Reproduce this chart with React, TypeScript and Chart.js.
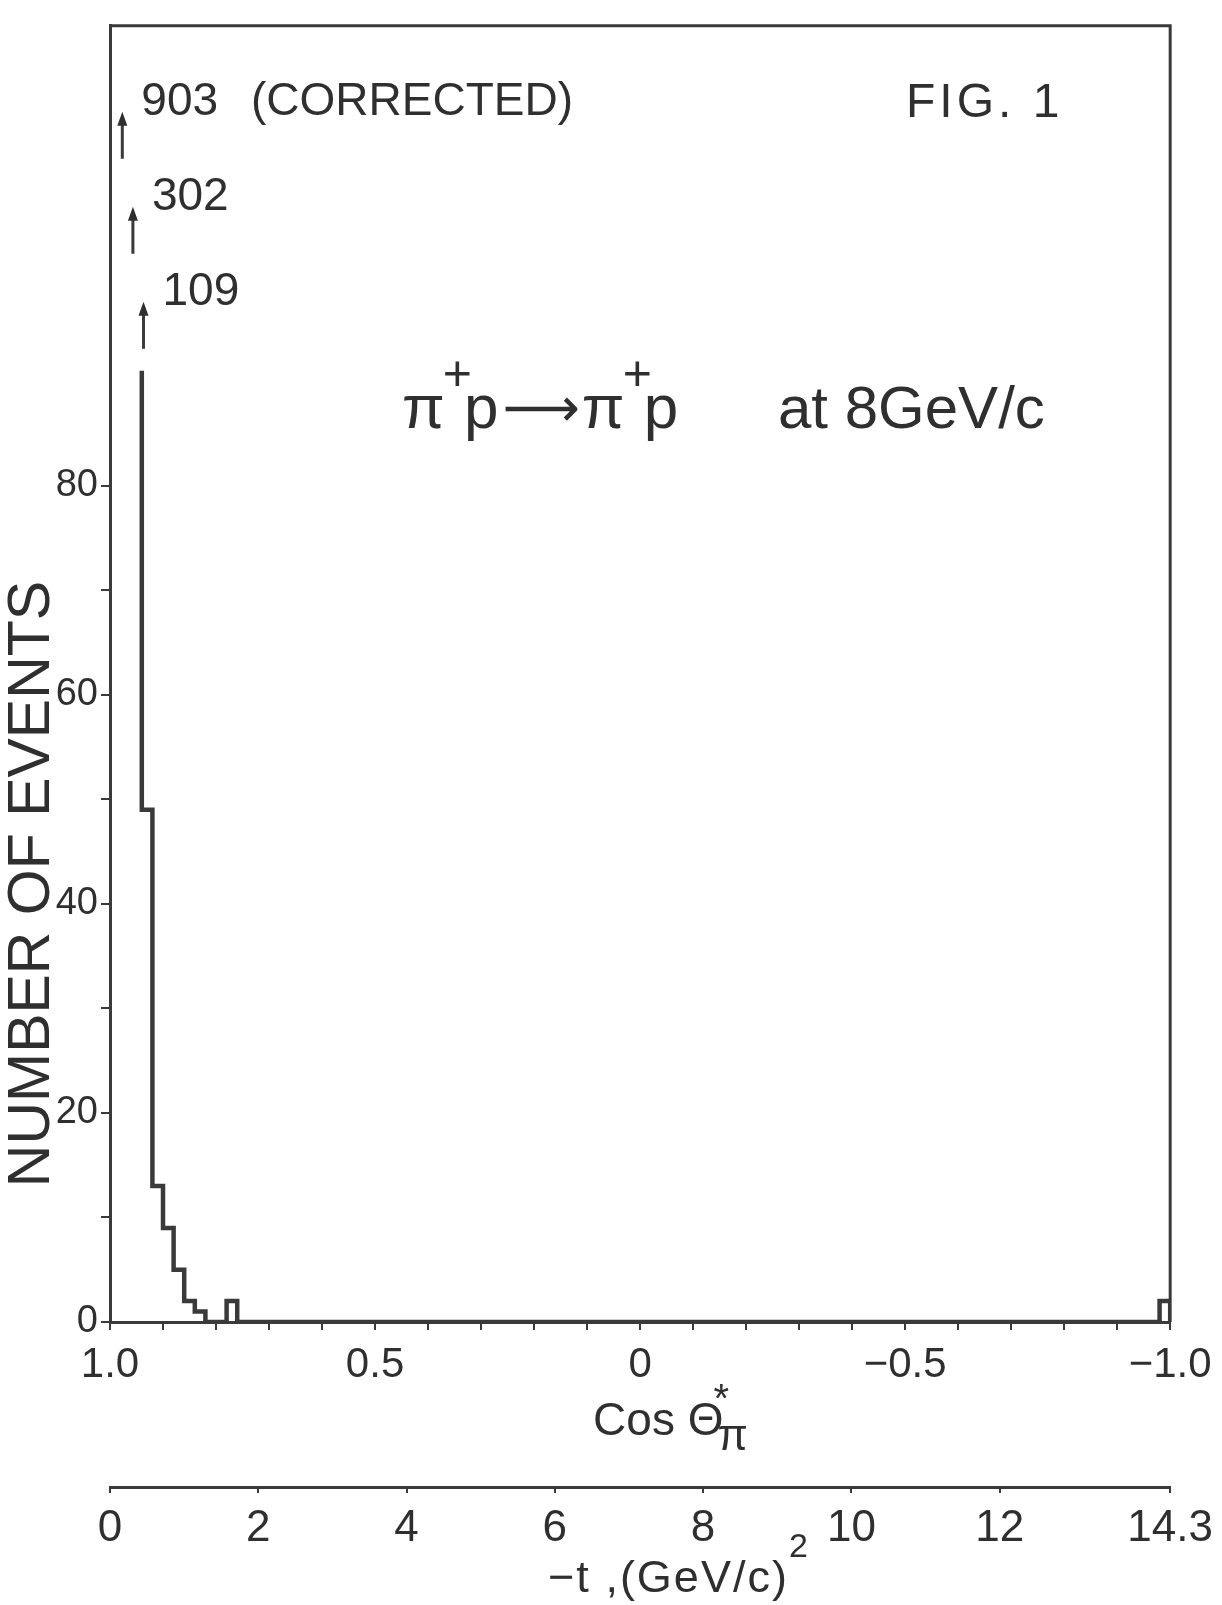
import React, { useEffect, useRef } from 'react';
import { Chart, registerables } from 'chart.js';

Chart.register(...registerables);

// ---------------- data ----------------
// histogram of cos(theta*) in bins of 0.02; upper edge of each listed bin
const binUpperEdge = [1.0, 0.98, 0.96, 0.94, 0.92, 0.9, 0.88, 0.86, 0.84, 0.82, 0.8, 0.78, 0.76, -0.96, -0.98];
const binCount = [903, 302, 109, 49, 13, 9, 5, 2, 1, 0, 0, 2, 0, 0, 2];
const BIN_WIDTH = 0.02;
// bins above this value are drawn as arrows with their count written beside
const DISPLAY_CAP = 91;
const offScaleNote = ['(CORRECTED)', '', ''];

const cosTickValues = [1.0, 0.9, 0.8, 0.7, 0.6, 0.5, 0.4, 0.3, 0.2, 0.1, 0, -0.1, -0.2, -0.3, -0.4, -0.5, -0.6, -0.7, -0.8, -0.9, -1.0];
const cosTickLabels = ['1.0', '', '', '', '', '0.5', '', '', '', '', '0', '', '', '', '', '\u22120.5', '', '', '', '', '\u22121.0'];
const eventTickValues = [0, 10, 20, 30, 40, 50, 60, 70, 80];
const eventTickLabels = ['0', '', '20', '', '40', '', '60', '', '80'];
const Y_MAX = 124;
const tTickValues = [0, 2, 4, 6, 8, 10, 12, 14.3];
const tTickLabels = ['0', '2', '4', '6', '8', '10', '12', '14.3'];
const T_MAX = 14.3;

const yTitle = 'NUMBER OF EVENTS';
const figLabel = 'FIG. 1';
const reactionLeft = ['\u03C0', '+', 'p'];
const reactionArrow = '\u27F6';
const reactionRight = ['\u03C0', '+', 'p'];
const reactionMomentum = 'at 8GeV/c';

// ---------------- style ----------------
const FONT = "'Liberation Sans', Arial, sans-serif";
const INK = '#2f2f2f';
const INK_LINE = '#3a3a3a';

function buildOutline() {
  const pts: { x: number; y: number }[] = [];
  let prevOff = false;
  for (let i = 0; i < binCount.length; i++) {
    const hi = binUpperEdge[i];
    const c = binCount[i];
    if (c > DISPLAY_CAP) {
      prevOff = true;
      continue;
    }
    if (prevOff) {
      pts.push({ x: hi, y: DISPLAY_CAP });
      prevOff = false;
    }
    pts.push({ x: hi, y: c });
    pts.push({ x: hi - BIN_WIDTH, y: c });
  }
  const last = binUpperEdge.length - 1;
  pts.push({ x: binUpperEdge[last] - BIN_WIDTH, y: 0 });
  return pts;
}

function font(size: number) {
  return `${size}px ${FONT}`;
}

const annotPlugin = {
  id: 'annot',
  afterDraw(chart: any) {
    const { ctx, chartArea: a, scales } = chart;
    const xs = scales.x;
    const ys = scales.y;
    ctx.save();

    // frame top and right
    ctx.strokeStyle = INK_LINE;
    ctx.lineWidth = 3;
    ctx.beginPath();
    ctx.moveTo(a.left, a.top);
    ctx.lineTo(a.right, a.top);
    ctx.lineTo(a.right, a.bottom);
    ctx.stroke();

    ctx.fillStyle = INK;
    ctx.textBaseline = 'alphabetic';
    ctx.textAlign = 'left';

    // off-scale bins: arrows and counts
    const offs: number[] = [];
    binCount.forEach((c, i) => {
      if (c > DISPLAY_CAP) offs.push(i);
    });
    const capPx = ys.getPixelForValue(DISPLAY_CAP);
    offs.forEach((i, j) => {
      const k = offs.length - 1 - j;
      const x = xs.getPixelForValue(binUpperEdge[i] - BIN_WIDTH / 2) + 7;
      const bottom = capPx - 22 - 95 * k;
      const top = bottom - 47;
      ctx.strokeStyle = INK_LINE;
      ctx.lineWidth = 3;
      ctx.beginPath();
      ctx.moveTo(x, bottom);
      ctx.lineTo(x, top + 10);
      ctx.stroke();
      ctx.beginPath();
      ctx.moveTo(x, top);
      ctx.lineTo(x - 5, top + 14);
      ctx.lineTo(x + 5, top + 14);
      ctx.closePath();
      ctx.fill();
      ctx.font = font(46);
      ctx.textBaseline = 'middle';
      const label = String(binCount[i]);
      const ly = top - 9;
      ctx.fillText(label, x + 19, ly);
      const note = offScaleNote[j];
      if (note) {
        const w = ctx.measureText(label).width;
        ctx.fillText(note, x + 19 + w + 33, ly);
      }
      ctx.textBaseline = 'alphabetic';
    });

    // FIG. 1
    ctx.font = font(48);
    (ctx as any).letterSpacing = '4px';
    ctx.fillText(figLabel, 906, 117);
    (ctx as any).letterSpacing = '0px';

    // reaction text
    let rx = 402;
    const rb = 428;
    const drawSide = (parts: string[]) => {
      ctx.font = font(62);
      ctx.fillText(parts[0], rx, rb);
      rx += ctx.measureText(parts[0]).width - 2;
      ctx.font = font(50);
      ctx.fillText(parts[1], rx, rb - 38);
      rx += ctx.measureText(parts[1]).width - 8;
      ctx.font = font(62);
      ctx.fillText(parts[2], rx, rb);
      rx += ctx.measureText(parts[2]).width;
    };
    drawSide(reactionLeft);
    rx += 4;
    ctx.font = `54px 'DejaVu Sans', ${FONT}`;
    ctx.fillText(reactionArrow, rx, rb - 2);
    rx += ctx.measureText(reactionArrow).width + 2;
    drawSide(reactionRight);
    ctx.font = font(60);
    ctx.fillText(reactionMomentum, 778, rb);

    // x title: Cos Θ*π
    const cx = (a.left + a.right) / 2;
    const tx = cx - 47;
    const tb = 1435;
    ctx.font = font(46);
    const main = 'Cos \u0398';
    ctx.fillText(main, tx, tb);
    const mw = ctx.measureText(main).width;
    ctx.font = font(40);
    ctx.fillText('*', tx + mw - 10, 1412);
    ctx.font = font(44);
    ctx.fillText('\u03C0', tx + mw - 6, 1450);

    // second axis title: −t ,(GeV/c)²
    ctx.font = font(45);
    (ctx as any).letterSpacing = '2px';
    const t2 = '\u2212t ,(GeV/c)';
    const t2x = cx - 92;
    ctx.fillText(t2, t2x, 1592);
    const t2w = ctx.measureText(t2).width;
    (ctx as any).letterSpacing = '0px';
    ctx.font = font(34);
    ctx.fillText('2', t2x + t2w, 1557);

    // y title
    ctx.save();
    ctx.translate(33, 884);
    ctx.rotate(-Math.PI / 2);
    ctx.font = font(59);
    ctx.textAlign = 'center';
    ctx.textBaseline = 'middle';
    ctx.fillText(yTitle, 0, 0);
    ctx.restore();

    ctx.restore();
  },
};

export default function App() {
  const ref = useRef<HTMLCanvasElement>(null);
  useEffect(() => {
    const canvas = ref.current as HTMLCanvasElement;
    const chart = new Chart(canvas, {
      type: 'line',
      data: {
        datasets: [
          {
            data: buildOutline(),
            borderColor: INK_LINE,
            borderWidth: 4.5,
            pointRadius: 0,
            fill: false,
            tension: 0,
            borderJoinStyle: 'miter',
            borderCapStyle: 'butt',
          } as any,
        ],
      },
      options: {
        animation: false,
        responsive: false,
        devicePixelRatio: 1,
        events: [],
        layout: { padding: { top: 9, right: 51, left: 0, bottom: 0 } },
        plugins: {
          legend: { display: false },
          tooltip: { enabled: false },
          title: { display: false },
        },
        scales: {
          x: {
            type: 'linear',
            position: 'bottom',
            min: -1,
            max: 1,
            reverse: true,
            afterBuildTicks: (s: any) => {
              s.ticks = cosTickValues.map((v) => ({ value: v }));
            },
            afterFit: (s: any) => {
              s.height = 165;
            },
            ticks: {
              autoSkip: false,
              maxRotation: 0,
              padding: 10,
              color: INK,
              font: { family: FONT, size: 42 },
              callback: (_v: any, i: number) => cosTickLabels[i],
            },
            grid: { drawOnChartArea: false, drawTicks: true, tickLength: 8, color: INK_LINE, lineWidth: 2 },
            border: { display: true, color: INK_LINE, width: 3 },
          },
          x2: {
            type: 'linear',
            position: 'bottom',
            weight: 1,
            min: 0,
            max: T_MAX,
            afterBuildTicks: (s: any) => {
              s.ticks = tTickValues.map((v) => ({ value: v }));
            },
            afterFit: (s: any) => {
              s.height = 118;
            },
            ticks: {
              autoSkip: false,
              maxRotation: 0,
              padding: 9,
              color: INK,
              font: { family: FONT, size: 44 },
              callback: (_v: any, i: number) => tTickLabels[i],
            },
            grid: { drawOnChartArea: false, drawTicks: true, tickLength: 6, color: INK_LINE, lineWidth: 2 },
            border: { display: true, color: INK_LINE, width: 3 },
          },
          y: {
            type: 'linear',
            position: 'left',
            min: 0,
            max: Y_MAX,
            afterBuildTicks: (s: any) => {
              s.ticks = eventTickValues.map((v) => ({ value: v }));
            },
            afterFit: (s: any) => {
              s.width = 110;
            },
            ticks: {
              autoSkip: false,
              padding: 3,
              color: INK,
              font: { family: FONT, size: 38 },
              callback: (_v: any, i: number) => eventTickLabels[i],
            },
            grid: { drawOnChartArea: false, drawTicks: true, tickLength: 9, color: INK_LINE, lineWidth: 2 },
            border: { display: true, color: INK_LINE, width: 3 },
          },
        },
      } as any,
      plugins: [annotPlugin],
    });
    return () => chart.destroy();
  }, []);
  return (
    <div style={{ position: 'absolute', left: 0, top: 0, width: 1222, height: 1605, background: '#fff' }}>
      <canvas ref={ref} width={1222} height={1605} style={{ display: 'block' }} />
    </div>
  );
}
